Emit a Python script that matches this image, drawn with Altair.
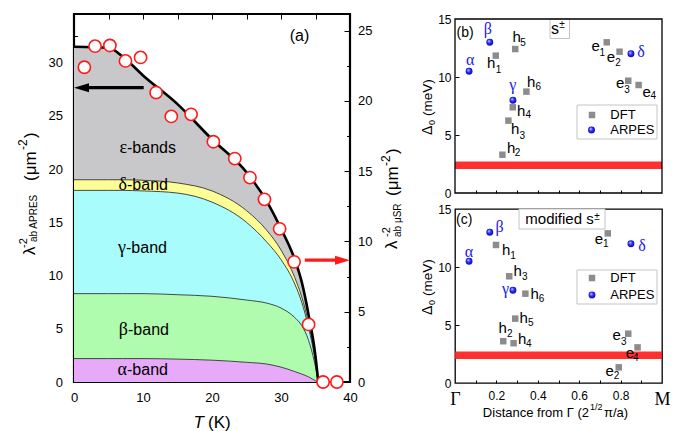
import altair as alt
import pandas as pd

SANS = "Liberation Sans"
SERIF = "Liberation Serif"
RED = "#ff1a1a"
BLUE_TXT = "#2020ee"

# ---------------- panel (a): superfluid density ----------------
T_grid    = [0, 5, 7, 10, 15, 20, 25, 28, 30, 32, 33, 34, 35, 35.4]
alpha_top = [2.2, 2.2, 2.2, 2.2, 2.15, 2.05, 1.85, 1.68, 1.4, 0.98, 0.75, 0.48, 0.12, 0]
beta_top  = [8.3, 8.3, 8.3, 8.3, 8.2, 8.05, 7.7, 7.4, 6.95, 6.05, 5.3, 3.9, 1.4, 0]
gamma_top = [18.0, 18.0, 18.0, 17.95, 17.75, 16.9, 15.0, 13.1, 11.5, 9.2, 7.5, 5.1, 1.8, 0]
delta_top = [19.0, 19.0, 19.0, 18.95, 18.7, 17.95, 16.1, 14.2, 12.4, 9.8, 8.0, 5.5, 2.0, 0]
eps_top   = [31.5, 31.4, 30.6, 28.8, 26.1, 22.8, 19.7, 16.9, 14.4, 11.5, 9.4, 6.3, 2.4, 0]
band_names  = ["α-band", "β-band", "γ-band", "δ-band", "ε-bands"]
band_colors = ["#e6aaf8", "#b0fcae", "#a8fcfc", "#fdfd96", "#c8c8ca"]

T_musr   = [1.5, 3.05, 5.2, 7.46, 9.65, 11.9, 14.1, 16.97, 20.2, 23.3, 25.5, 27.6, 29.8, 31.9, 34.0, 36.1, 38.1]
lam_musr = [22.4, 23.9, 23.95, 22.85, 23.1, 20.6, 18.9, 19.05, 17.1, 15.9, 14.55, 13.0, 10.9, 8.55, 4.1, 0, 0]

arrow_apres = {"T_from": 10.1, "T_tip": 0.0, "value": 27.65}
arrow_musr  = {"T_from": 33.45, "T_tip": 40.0, "value": 8.67}

# ---------------- panels (b), (c): gaps ----------------
arpes_names = ["α", "β", "γ", "δ"]
arpes_dist  = [0.068, 0.168, 0.28, 0.85]
arpes_gap   = [10.5, 13.0, 8.0, 12.0]
dft_letter  = ["h", "h", "h", "h", "h", "h", "e", "e", "e", "e"]
dft_index   = ["1", "2", "3", "4", "5", "6", "1", "2", "3", "4"]
dft_dist_s  = [0.197, 0.229, 0.258, 0.279, 0.291, 0.345, 0.733, 0.795, 0.837, 0.887]
dft_gap_s   = [11.84, 3.30, 6.24, 7.39, 12.41, 8.74, 12.99, 12.18, 9.68, 9.31]
dft_dist_m  = [0.198, 0.233, 0.262, 0.283, 0.291, 0.340, 0.738, 0.791, 0.837, 0.882]
dft_gap_m   = [11.9, 3.6, 9.2, 3.43, 5.55, 7.7, 12.9, 1.35, 4.25, 3.07]
musr_gap = 2.4

# label offsets (pixels, from the marker centre to the label's left/baseline)
OFF_B = {"h1": (-8.7, 12.7, 0, 17.3), "h2": (4.7, -1.7, 12.3, 1.7), "h3": (2.7, 13.3, 11, 18.3),
         "h4": (4.3, 8.3, 12.7, 11), "h5": (-2.7, -7.3, 5, -2.7), "h6": (0.7, -5, 9, -2),
         "e1": (-15.3, 8.3, -7.3, 13.3), "e2": (-12.7, 10.7, -4.3, 14), "e3": (-12.3, 7.7, -4, 12.3),
         "e4": (4, 11.7, 12, 14)}
GOFF_B = {"α": (-3, -6), "β": (-6, -8.3), "γ": (-3.7, -10.7), "δ": (6.3, 3.3)}
OFF_C = {"h1": (6, 9.7, 14.3, 14), "h2": (-4.7, -8, 3.7, -4), "h3": (4.3, 0, 12.7, 3.3),
         "h4": (4.3, 0.7, 12.3, 4), "h5": (4.3, 4.3, 12.7, 7), "h6": (5, 5.3, 13.3, 8.7),
         "e1": (-13, 10.7, -4.7, 14), "e2": (-13.3, 8.3, -5, 11.7), "e3": (-15.7, 6.7, -7.3, 10.8),
         "e4": (-11.8, 10.7, -4.5, 14)}
GOFF_C = {"α": (-4.3, -4.3), "β": (5.7, -0.7), "γ": (-11, 3.3), "δ": (7.3, 6.7)}

_one = alt.Data(values=[{"k": 0}])


def txt(s, x, y, size=13, font=SANS, angle=0, align="left", baseline="alphabetic",
        color="black", style="normal"):
    return alt.Chart(_one).mark_text(
        text=s, font=font, fontSize=size, angle=angle, align=align, baseline=baseline,
        color=color, fontStyle=style,
    ).encode(x=alt.value(x), y=alt.value(y))


def box(x0, x1, y0, y1, stroke="#c4c4c4"):
    return alt.Chart(_one).mark_rect(fill="white", stroke=stroke, strokeWidth=1).encode(
        x=alt.value(x0), x2=alt.value(x1), y=alt.value(y0), y2=alt.value(y1))


def tick_axis(orient, values, size):
    # ticks drawn inward: shift the (label-less) axis into the plot by its tick length
    return alt.Axis(orient=orient, values=values, tickSize=size, offset=-size, labels=False,
                    domain=False, grid=False, title=None)


def label_axis(orient, values, pad, fs, **kw):
    return alt.Axis(orient=orient, values=values, ticks=False, labelPadding=pad, labelFontSize=fs,
                    domain=False, grid=False, title=None, **kw)


# ====================== panel (a) ======================
W_A, H_A = 276, 368
xs = alt.Scale(domain=[0, 40], nice=False, zero=False)
yl = alt.Scale(domain=[0, 34.57], nice=False, zero=False)
yr = alt.Scale(domain=[0, 26.19], nice=False, zero=False)

tops = [alpha_top, beta_top, gamma_top, delta_top, eps_top]
rows = []
for i, name in enumerate(band_names):
    lo = [0] * len(T_grid) if i == 0 else tops[i - 1]
    for t, l, h in zip(T_grid, lo, tops[i]):
        rows.append({"T": t, "band": name, "lo": l, "hi": h})
bands = pd.DataFrame(rows)
musr = pd.DataFrame({"T": T_musr, "lam": lam_musr})

areas = alt.Chart(bands).mark_area(interpolate="monotone", opacity=1).encode(
    x=alt.X("T:Q", scale=xs, axis=label_axis("bottom", [0, 10, 20, 30, 40], 9.5, 13,
                                               labelFlush=False)),
    y=alt.Y("hi:Q", scale=yl, axis=label_axis("left", [0, 5, 10, 15, 20, 25, 30], 11.5, 13)),
    y2="lo:Q",
    color=alt.Color("band:N", scale=alt.Scale(domain=band_names, range=band_colors), legend=None),
)
bounds_lines = alt.Chart(bands[bands.band != "ε-bands"]).mark_line(
    interpolate="monotone", color="#333333", strokeWidth=0.9).encode(
    x=alt.X("T:Q", scale=xs, axis=None), y=alt.Y("hi:Q", scale=yl, axis=None), detail="band:N")
total_line = alt.Chart(bands[bands.band == "ε-bands"]).mark_line(
    interpolate="monotone", color="black", strokeWidth=2.6).encode(
    x=alt.X("T:Q", scale=xs, axis=None), y=alt.Y("hi:Q", scale=yl, axis=None))

head_dT = 7.5 * 40 / W_A
arrL = pd.DataFrame({"T": [arrow_apres["T_tip"] + head_dT, arrow_apres["T_from"]],
                     "v": [arrow_apres["value"]] * 2})
arrL_line = alt.Chart(arrL).mark_line(color="black", strokeWidth=3.2).encode(
    x=alt.X("T:Q", scale=xs, axis=None), y=alt.Y("v:Q", scale=yl, axis=None))
arrL_head = alt.Chart(arrL.iloc[[0]]).mark_point(
    shape="M-1,0L1,-0.6L1,0.6Z", size=225, filled=True, color="black", opacity=1).encode(
    x=alt.X("T:Q", scale=xs, axis=None), y=alt.Y("v:Q", scale=yl, axis=None))

tick_major = alt.Chart(bands).mark_point(opacity=0).encode(
    x=alt.X("T:Q", scale=xs, axis=tick_axis("bottom", [10, 20, 30], 6)),
    y=alt.Y("hi:Q", scale=yl, axis=tick_axis("left", [5, 10, 15, 20, 25, 30], 6)))
tick_minor = alt.Chart(bands).mark_point(opacity=0).encode(
    x=alt.X("T:Q", scale=xs, axis=tick_axis("bottom", [5, 15, 25, 35], 3.5)),
    y=alt.Y("hi:Q", scale=yl, axis=tick_axis("left", [2.5 + 5 * k for k in range(7)], 3.5)))
tick_top = alt.Chart(bands).mark_point(opacity=0).encode(
    x=alt.X("T:Q", scale=xs, axis=tick_axis("top", list(range(5, 40, 5)), 5)),
    y=alt.Y("hi:Q", scale=yl, axis=None))

left_group = alt.layer(areas, bounds_lines, total_line, arrL_line, arrL_head,
                       tick_major, tick_minor, tick_top
                       ).resolve_axis(x="independent", y="independent")

arrR = pd.DataFrame({"T": [arrow_musr["T_from"], arrow_musr["T_tip"] - head_dT],
                     "v": [arrow_musr["value"]] * 2})
arrR_line = alt.Chart(arrR).mark_line(color=RED, strokeWidth=3.2).encode(
    x=alt.X("T:Q", scale=xs, axis=None), y=alt.Y("v:Q", scale=yr, axis=None))
arrR_head = alt.Chart(arrR.iloc[[1]]).mark_point(
    shape="M1,0L-1,-0.6L-1,0.6Z", size=225, filled=True, color=RED, opacity=1).encode(
    x=alt.X("T:Q", scale=xs, axis=None), y=alt.Y("v:Q", scale=yr, axis=None))
circles = alt.Chart(musr).mark_circle(fill="white", stroke=RED, strokeWidth=1.6, size=150,
                                      opacity=1).encode(
    x=alt.X("T:Q", scale=xs, axis=None),
    y=alt.Y("lam:Q", scale=yr, axis=label_axis("right", [0, 5, 10, 15, 20, 25], 7.5, 13)))
tick_r1 = alt.Chart(musr).mark_point(opacity=0).encode(
    x=alt.X("T:Q", scale=xs, axis=None),
    y=alt.Y("lam:Q", scale=yr, axis=tick_axis("right", [5, 10, 15, 20, 25], 6)))
tick_r2 = alt.Chart(musr).mark_point(opacity=0).encode(
    x=alt.X("T:Q", scale=xs, axis=None),
    y=alt.Y("lam:Q", scale=yr, axis=tick_axis("right", [2.5 + 5 * k for k in range(5)], 3.5)))
right_group = alt.layer(arrR_line, arrR_head, circles, tick_r1, tick_r2
                        ).resolve_axis(x="independent", y="independent")

a_texts = [
    alt.Chart(_one).mark_circle(size=1, opacity=0).encode(x=alt.value(-71.5), y=alt.value(-11.5)),
    # left axis title
    txt("λ", -39, 241, 17, angle=270),
    txt("-2", -47.5, 234, 11, angle=270),
    txt("ab APRES", -37, 228, 10, angle=270),
    txt("(μm", -38.5, 167, 17, angle=270),
    txt("-2", -47.5, 136, 12, angle=270),
    txt(")", -38.5, 124, 17, angle=270),
    # right axis title
    txt("λ", 323, 235, 17, angle=270),
    txt("-2", 315.5, 223, 11, angle=270),
    txt("ab μSR", 327, 223, 10, angle=270),
    txt("(μm", 323.5, 182, 17, angle=270),
    txt("-2", 315.5, 152, 12, angle=270),
    txt(")", 323.5, 140, 17, angle=270),
    # x title
    txt("T", 130, 414, 17, style="italic", align="right"),
    txt("(K)", 134, 414, 17),
    txt("(a)", 225.5, 26.5, 16, align="center"),
]
for g, rest, bx, by in [("ε", "-bands", 53, 138.7), ("δ", "-band", 53, 176.3),
                        ("γ", "-band", 52, 238.7), ("β", "-band", 54, 321.3),
                        ("α", "-band", 53, 361.3)]:
    a_texts.append(txt(g, bx, by, 18, font=SERIF, align="right"))
    a_texts.append(txt(rest, bx, by, 16))

panel_a = alt.layer(left_group, right_group, *a_texts).resolve_scale(
    y="independent").resolve_axis(x="independent", y="independent").properties(
    width=W_A, height=H_A, view=alt.ViewBackground(stroke="black", strokeWidth=2.2))

# ====================== panels (b), (c) ======================
SPHERE = alt.RadialGradient(
    gradient="radial",
    stops=[alt.GradientStop(color="#f0f0ff", offset=0.0),
           alt.GradientStop(color="#3535ff", offset=0.45),
           alt.GradientStop(color="#0000a8", offset=1.0)],
    x1=0.35, y1=0.3, r1=0.0, x2=0.5, y2=0.5, r2=0.55)
GRAY = "#8c8c8c"
xsg = alt.Scale(domain=[0, 1], nice=False, zero=False)
TENTHS = [round(0.1 * k, 1) for k in range(1, 10)]
END_TEST = "datum.value < 0.05 || datum.value > 0.95"


def ytitle(x, y_start):
    return [
        txt("Δ", x, y_start, 14, angle=270),
        txt("0", x + 3, y_start - 10, 9, angle=270),
        txt("(meV)", x, y_start - 19, 13.5, angle=270),
    ]


def gap_panel(kind):
    if kind == "b":
        dist, gapv, offs, goffs = dft_dist_s, dft_gap_s, OFF_B, GOFF_B
        H = 179
        ys = alt.Scale(domain=[0, 15 * 179 / 174], nice=False, zero=False)
        xaxis = None
    else:
        dist, gapv, offs, goffs = dft_dist_m, dft_gap_m, OFF_C, GOFF_C
        H = 174
        ys = alt.Scale(domain=[0, 15], nice=False, zero=False)
        xaxis = label_axis(
            "bottom", [round(0.2 * k, 1) for k in range(0, 6)], 7,
            {"condition": {"test": END_TEST, "value": 18}, "value": 12},
            labelFlush=False, labelOverlap=False,
            labelExpr="datum.value < 0.05 ? 'Γ' : (datum.value > 0.95 ? 'M' : "
                      "format(datum.value, '.1f'))",
            labelFont={"condition": {"test": END_TEST, "value": SERIF}, "value": SANS})
    yaxis = label_axis("left", [0, 5, 10, 15], 4, 12)

    band = alt.Chart(pd.DataFrame({"d0": [0.0], "d1": [1.0], "g": [musr_gap]})).mark_rule(
        color=RED, strokeWidth=7.5, opacity=0.9).encode(
        x=alt.X("d0:Q", scale=xsg, axis=xaxis), x2="d1:Q",
        y=alt.Y("g:Q", scale=ys, axis=yaxis))
    dft = pd.DataFrame({"d": dist, "g": gapv,
                        "name": [a + b for a, b in zip(dft_letter, dft_index)]})
    arp = pd.DataFrame({"d": arpes_dist, "g": arpes_gap, "name": arpes_names})
    enc = dict(x=alt.X("d:Q", scale=xsg, axis=None), y=alt.Y("g:Q", scale=ys, axis=None))
    ticks = alt.Chart(dft).mark_point(opacity=0).encode(
        x=alt.X("d:Q", scale=xsg, axis=tick_axis("bottom", TENTHS, 3)),
        y=alt.Y("g:Q", scale=ys, axis=tick_axis("left", [5, 10], 4)))
    squares = alt.Chart(dft).mark_square(color=GRAY, size=42, opacity=1).encode(**enc)
    spheres = alt.Chart(arp).mark_circle(fill=SPHERE, size=48, opacity=1).encode(**enc)

    layers = [band, ticks, squares, spheres]
    for i in range(len(dft)):
        nm = dft["name"][i]
        bdx, bdy, sdx, sdy = offs[nm]
        row = dft.iloc[[i]]
        layers.append(alt.Chart(row).mark_text(text=dft_letter[i], dx=bdx, dy=bdy, align="left",
                                               baseline="alphabetic", font=SANS, fontSize=15,
                                               color="black").encode(**enc))
        layers.append(alt.Chart(row).mark_text(text=dft_index[i], dx=sdx, dy=sdy, align="left",
                                               baseline="alphabetic", font=SANS, fontSize=10,
                                               color="black").encode(**enc))
    for i in range(len(arp)):
        nm = arpes_names[i]
        gdx, gdy = goffs[nm]
        layers.append(alt.Chart(arp.iloc[[i]]).mark_text(
            text=nm, dx=gdx, dy=gdy, align="left", baseline="alphabetic", font=SERIF,
            fontSize=16, color=BLUE_TXT).encode(**enc))

    if kind == "b":
        ly = 91
        layers += [
            box(122, 202, ly, ly + 34),
            alt.Chart(_one).mark_square(color=GRAY, size=42, opacity=1).encode(
                x=alt.value(137), y=alt.value(ly + 10)),
            txt("DFT", 155.3, ly + 14, 13),
            alt.Chart(_one).mark_circle(fill=SPHERE, size=48, opacity=1).encode(
                x=alt.value(136.5), y=alt.value(ly + 25)),
            txt("ARPES", 155.3, ly + 29, 13),
            box(95, 114.5, 5, 24.5),
            txt("s", 104, 20, 16, align="right"),
            txt("±", 104.3, 13.5, 10),
            txt("(b)", 1.5, 23, 14),
            alt.Chart(pd.DataFrame({"d0": [0.0], "d1": [1.0], "g0": [0.0], "g1": [15.0]})).mark_rect(
                fill="transparent", stroke="black", strokeWidth=1.3).encode(
                x=alt.X("d0:Q", scale=xsg, axis=None), x2="d1:Q",
                y=alt.Y("g0:Q", scale=ys, axis=None), y2="g1:Q"),
        ] + ytitle(-23, 121)
        view = alt.ViewBackground(stroke="transparent")
    else:
        ly = 61
        layers += [
            box(122, 202, ly, ly + 34),
            alt.Chart(_one).mark_square(color=GRAY, size=42, opacity=1).encode(
                x=alt.value(137), y=alt.value(ly + 8)),
            txt("DFT", 155.3, ly + 12, 13),
            alt.Chart(_one).mark_circle(fill=SPHERE, size=48, opacity=1).encode(
                x=alt.value(137), y=alt.value(ly + 25)),
            txt("ARPES", 155.3, ly + 29, 13),
            box(64, 150, 0, 20),
            txt("modified s", 138.7, 14.5, 15, align="right"),
            txt("±", 139.2, 10.5, 10),
            txt("(c)", 1, 14.7, 14),
            txt("Distance from Γ (2", 134, 208, 13, align="right"),
            txt("1/2", 135, 201, 9),
            txt("π/a)", 149, 208, 13),
        ] + ytitle(-23, 106)
        view = alt.ViewBackground(stroke="black", strokeWidth=1.3)
    return alt.layer(*layers).resolve_axis(x="independent", y="independent").properties(
        width=207, height=H, view=view)


panel_b = gap_panel("b")
panel_c = gap_panel("c")

chart = alt.hconcat(
    panel_a,
    alt.vconcat(panel_b, panel_c, spacing=16, bounds="flush"),
    spacing=105, bounds="flush",
).properties(padding=0).configure_axis(
    labelFont=SANS, labelColor="black", tickColor="black", tickWidth=1, grid=False
).configure_view(stroke="black", strokeWidth=1.3)

chart.save("out.html", embed_options={"renderer": "svg", "actions": False})
